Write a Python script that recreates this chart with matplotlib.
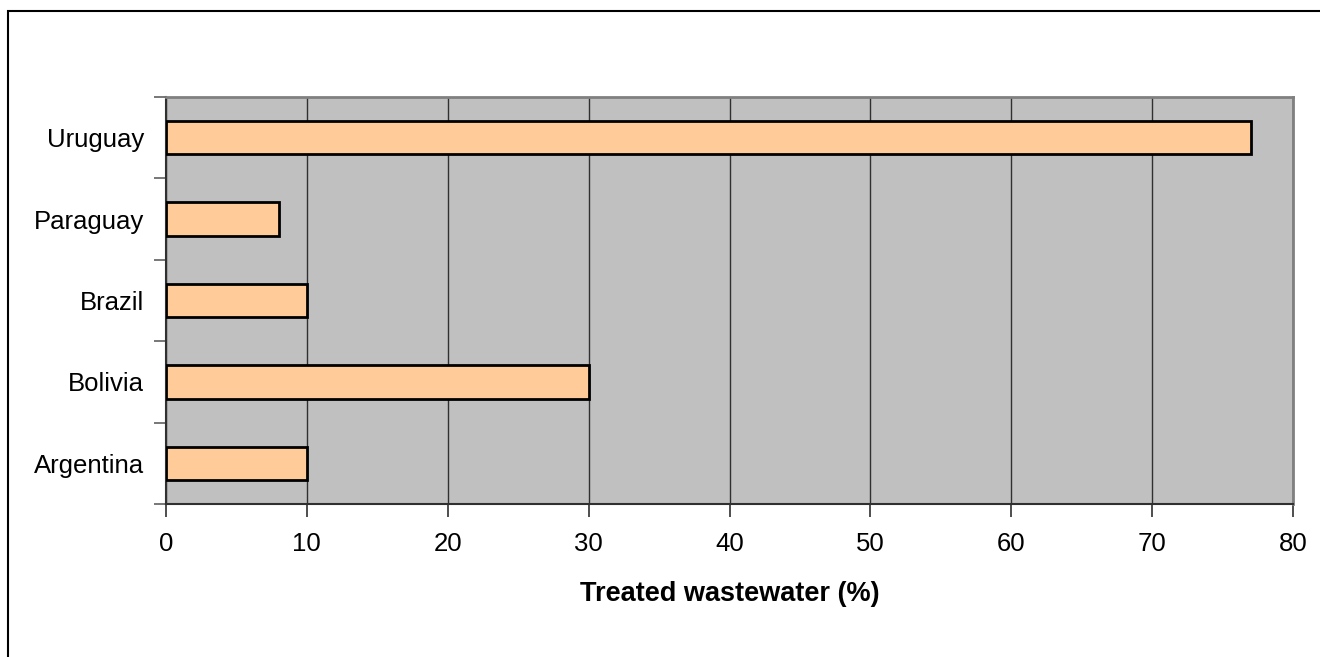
import matplotlib
matplotlib.use("Agg")
import matplotlib.pyplot as plt
from matplotlib.patches import Rectangle
import numpy as np

countries = ["Argentina", "Bolivia", "Brazil", "Paraguay", "Uruguay"]
treated = [10, 30, 10, 8, 77]
xticks = [0, 10, 20, 30, 40, 50, 60, 70, 80]
xlabel = "Treated wastewater (%)"

plt.rcParams['font.family'] = ['Liberation Sans', 'DejaVu Sans']

fig = plt.figure(figsize=(13.2, 6.57), dpi=100)
ax = fig.add_axes([166/1320, 1-504/657, (1293-166)/1320, (504-97)/657])
ax.set_facecolor('#C0C0C0')

y = np.arange(len(countries))
ax.barh(y, treated, height=0.41, color='#FFCC99', edgecolor='black', linewidth=2.0, zorder=3)

ax.set_xlim(0, 80)
ax.set_ylim(-0.5, len(countries) - 0.5)
ax.set_xticks(xticks)
ax.set_xticklabels([str(v) for v in xticks], fontsize=18.5)
ax.set_yticks(y)
ax.set_yticklabels(countries, fontsize=18.5)
ax.set_yticks(np.arange(-0.5, len(countries)), minor=True)
ax.tick_params(axis='y', which='major', length=0, pad=16)
ax.tick_params(axis='y', which='minor', length=9, width=1.2, color='#606060', direction='out')
ax.tick_params(axis='x', which='major', length=9, width=1.2, color='#303030', direction='out', pad=11)

ax.grid(axis='x', color='#303030', linewidth=1.0, zorder=1)
ax.set_axisbelow(True)

for s in ['top', 'right']:
    ax.spines[s].set_color('#808080')
    ax.spines[s].set_linewidth(2)
for s in ['left', 'bottom']:
    ax.spines[s].set_color('#303030')
    ax.spines[s].set_linewidth(1.5)

ax.set_xlabel(xlabel, fontsize=19.5, fontweight='bold', labelpad=18)

# figure frame (top and left edges visible)
fig.patches.append(Rectangle((8/1320, -0.1), 1.2, 1 - 11/657 + 0.1, transform=fig.transFigure,
                             fill=False, edgecolor='black', linewidth=1.5))

fig.savefig('out.png', dpi=100, facecolor='white')
